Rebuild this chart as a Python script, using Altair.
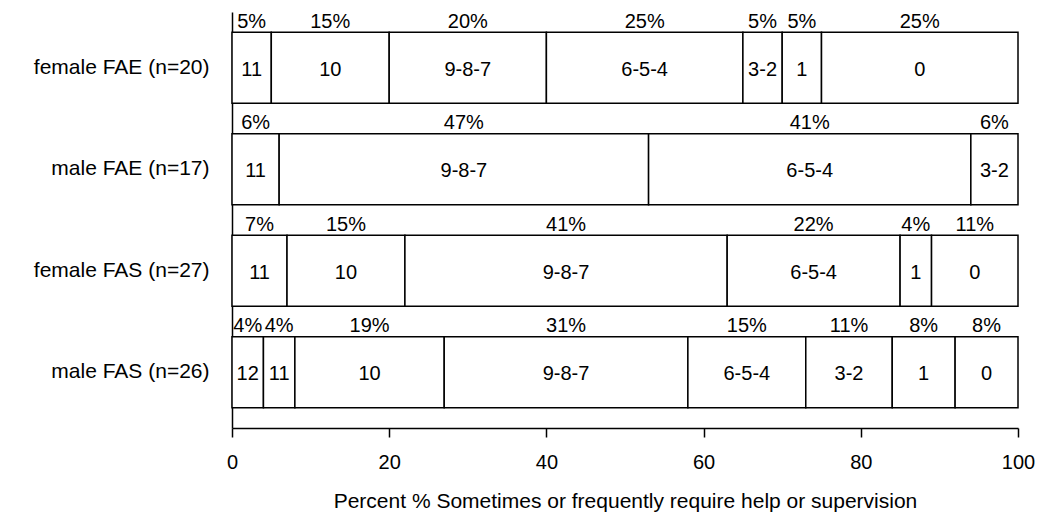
import altair as alt
import pandas as pd

groups = ["female FAE (n=20)", "male FAE (n=17)", "female FAS (n=27)", "male FAS (n=26)"]

female_fae_levels = ["11", "10", "9-8-7", "6-5-4", "3-2", "1", "0"]
female_fae_pct = [5, 15, 20, 25, 5, 5, 25]

male_fae_levels = ["11", "9-8-7", "6-5-4", "3-2"]
male_fae_pct = [6, 47, 41, 6]

female_fas_levels = ["11", "10", "9-8-7", "6-5-4", "1", "0"]
female_fas_pct = [7, 15, 41, 22, 4, 11]

male_fas_levels = ["12", "11", "10", "9-8-7", "6-5-4", "3-2", "1", "0"]
male_fas_pct = [4, 4, 19, 31, 15, 11, 8, 8]

x_ticks = [0, 20, 40, 60, 80, 100]
x_title = "Percent % Sometimes or frequently require help or supervision"

all_levels = [female_fae_levels, male_fae_levels, female_fas_levels, male_fas_levels]
all_pcts = [female_fae_pct, male_fae_pct, female_fas_pct, male_fas_pct]

rows = []
for g, levels, pcts in zip(groups, all_levels, all_pcts):
    start = 0
    for lv, p in zip(levels, pcts):
        rows.append(dict(group=g, level=lv, pct=p, start=start, end=start + p,
                         mid=start + p / 2, pct_label=f"{p}%"))
        start += p
df = pd.DataFrame(rows)

FONT = "Liberation Sans"

x_scale = alt.Scale(domain=[0, 100], nice=False, zero=True)
y_enc = alt.Y(
    "group:N",
    sort=groups,
    scale=alt.Scale(paddingInner=0.3, paddingOuter=0.2),
    axis=alt.Axis(
        title=None, ticks=False, domain=True, domainColor="black", domainWidth=1.5,
        labelFontSize=21, labelColor="black", labelPadding=23, labelFont=FONT,
    ),
)

base = alt.Chart(df)

bars = base.mark_bar(fill="white", stroke="black", strokeWidth=1.5).encode(
    x=alt.X(
        "start:Q",
        scale=x_scale,
        axis=alt.Axis(
            values=x_ticks, title=x_title, grid=False,
            domainColor="black", domainWidth=1.5,
            tickColor="black", tickWidth=1.5, tickSize=9,
            labelFontSize=20, labelColor="black", labelPadding=15, labelFont=FONT,
            labelFlush=False,
            titleFont=FONT, titleFontSize=21, titleFontWeight="normal",
            titleColor="black", titlePadding=18,
        ),
    ),
    x2="end:Q",
    y=y_enc,
)

seg_text = base.mark_text(
    font=FONT, fontSize=20, color="black", baseline="middle", align="center", dy=2
).encode(
    x=alt.X("mid:Q", scale=x_scale),
    y=alt.Y("group:N", sort=groups),
    text="level:N",
)

pct_text = base.mark_text(
    font=FONT, fontSize=20, color="black", baseline="alphabetic", align="center", dy=-40
).encode(
    x=alt.X("mid:Q", scale=x_scale),
    y=alt.Y("group:N", sort=groups),
    text="pct_label:N",
)

chart = (
    alt.layer(bars, seg_text, pct_text)
    .properties(
        width=786,
        height=416,
        autosize=alt.AutoSizeParams(type="none"),
        padding={"left": 224, "top": 4, "right": 17, "bottom": 86},
        background="white",
    )
    .configure_view(strokeWidth=0)
)

chart.save("out.html", embed_options={"renderer": "svg", "actions": False})
